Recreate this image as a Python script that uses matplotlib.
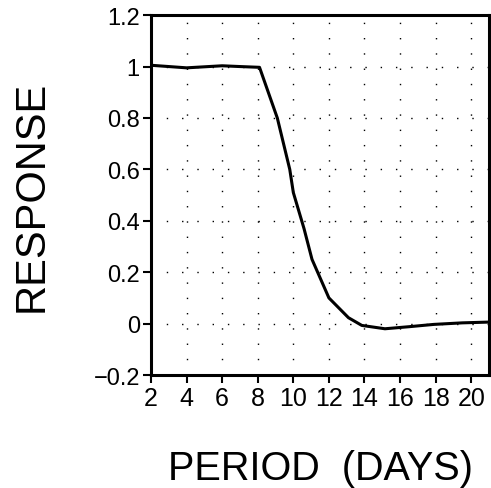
import matplotlib
matplotlib.use("Agg")
import matplotlib.pyplot as plt

# values
period = [2, 4, 6, 7, 8.1, 9.1, 9.8, 10.0, 10.6, 11.05, 12.0, 13.1, 13.85, 15.15, 16.5, 17.9, 19.5, 21]
response = [1.005, 0.995, 1.003, 1.0, 0.997, 0.80, 0.60, 0.51, 0.37, 0.25, 0.10, 0.023, -0.007, -0.02, -0.012, -0.003, 0.003, 0.006]

xticks = [2, 4, 6, 8, 10, 12, 14, 16, 18, 20]
yticks = [-0.2, 0, 0.2, 0.4, 0.6, 0.8, 1, 1.2]
ylabels = ["\u22120.2", "0", "0.2", "0.4", "0.6", "0.8", "1", "1.2"]

fam = ["Liberation Sans", "DejaVu Sans"]

fig = plt.figure(figsize=(4.91, 4.89), dpi=100)
ax = fig.add_axes([0.3075, 0.231, 0.6885, 0.736])

ax.plot(period, response, color="black", linewidth=2.2)

ax.set_xlim(2, 21)
ax.set_ylim(-0.2, 1.2)
ax.set_xticks(xticks)
ax.set_yticks(yticks)
ax.set_yticklabels(ylabels)

for lab in ax.get_xticklabels():
    lab.set_family(fam)
    lab.set_fontsize(18)
for lab in ax.get_yticklabels():
    lab.set_family(fam)
    lab.set_fontsize(17)

ax.tick_params(direction="out", length=6, width=1.5, pad=2)
for s in ax.spines.values():
    s.set_linewidth(2.2)

ax.grid(True, color="black", linewidth=1, linestyle=(0, (1, 10)))

ax.set_xlabel("PERIOD  (DAYS)", family=fam, fontsize=28.5, labelpad=28)
ax.set_ylabel("RESPONSE", family=fam, fontsize=30, labelpad=30)

fig.savefig("out.png", dpi=100)
